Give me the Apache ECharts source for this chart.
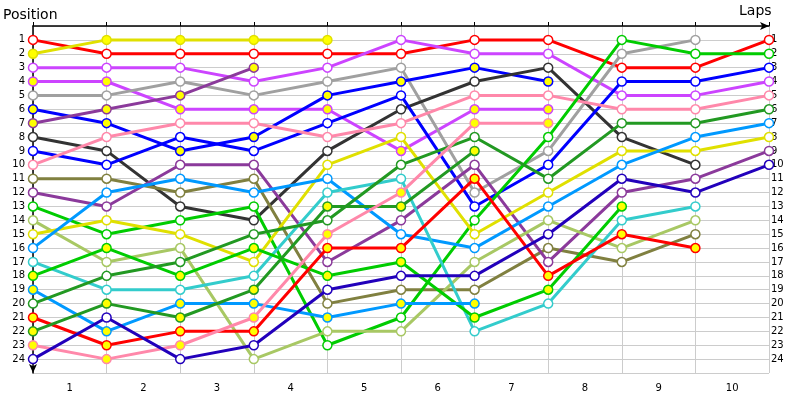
<!DOCTYPE html>
<html><head><meta charset="utf-8">
<script src="https://cdn.jsdelivr.net/npm/echarts@6/dist/echarts.min.js"></script>
<style>html,body{margin:0;padding:0;background:#fff}#c{width:800px;height:400px}</style>
</head><body><div id="c"></div>
<script>
const lapLabels = ['1','2','3','4','5','6','7','8','9','10'];
const positionLabels = Array.from({length:24},(_,i)=>String(i+1));
const seriesColors = ['#ff0000','#e0e000','#cc44ff','#cc44ff','#a0a0a0','#0000ff','#8b3a9b','#333333','#0000ff','#ff88aa','#808040','#8b3a9b','#00cc00','#a8c864','#e0e000','#0099ff','#33cccc','#00cc00','#0099ff','#229922','#ff0000','#229922','#ff88aa','#2200bb'];
const filled = [0,1,0,1,0,1,1,0,0,0,0,0,0,0,0,0,0,1,1,0,1,1,1,0];
const positions = [
 [1,2,2,2,2,2,1,1,3,3,1],
 [2,1,1,1,1],
 [3,3,3,4,3,1,2,2,5,5,4],
 [4,4,6,6,6,9,6,6],
 [5,5,4,5,4,3,12,9,2,1],
 [6,7,9,8,5,4,3,4],
 [7,6,5,3],
 [8,9,13,14,9,6,4,3,8,10],
 [9,10,8,9,7,5,13,10,4,4,3],
 [10,8,7,7,8,7,5,5,6,6,5],
 [11,11,12,11,20,19,19,16,17,15],
 [12,13,10,10,17,14,10,17,12,11,9],
 [13,15,14,13,23,21,14,8,1,2,2],
 [14,17,16,24,22,22,17,14,16,14],
 [15,14,15,17,10,8,15,12,9,9,8],
 [16,12,11,12,11,15,16,13,10,8,7],
 [17,19,19,18,12,11,22,20,14,13],
 [18,16,18,16,18,17,21,19,13],
 [19,22,20,20,21,20,20],
 [20,18,17,15,14,10,8,11,7,7,6],
 [21,23,22,22,16,16,11,18,15,16],
 [22,20,21,19,13,13,9],
 [23,24,23,21,15,12,7,7],
 [24,21,24,23,19,18,18,15,11,12,10]
];
const series = positions.map((p,i)=>({
  type:'line', xAxisIndex:0, yAxisIndex:0,
  data:p.map((v,j)=>[j,v]),
  symbol:'circle', symbolSize:9,
  lineStyle:{width:3,color:seriesColors[i]},
  itemStyle:{color:filled[i]?'#ffff00':'#ffffff',borderColor:seriesColors[i],borderWidth:1.5},
  emphasis:{disabled:true}, z:2+i, animation:false
}));
const chart = echarts.init(document.getElementById('c'));
const lbl = {fontFamily:'DejaVu Sans',fontSize:10,color:'#000'};
chart.setOption({
  animation:false,
  grid:{left:32,right:31,top:26,bottom:27},
  xAxis:[
    {type:'value',min:0,max:10,interval:1,position:'bottom',
     axisLine:{show:true,lineStyle:{color:'#000',width:1.5},symbol:['none','arrow'],symbolSize:[6,9]},
     axisTick:{show:true,length:4,inside:true,lineStyle:{color:'#000'}},axisLabel:{show:false},
     splitLine:{show:true,lineStyle:{color:'#cccccc'}},
     name:'Laps',nameLocation:'end',nameGap:-30,
     nameTextStyle:{fontFamily:'DejaVu Sans',fontSize:14,color:'#000',verticalAlign:'bottom',padding:[0,0,8,0]}},
    {type:'value',min:0,max:10,interval:0.5,position:'bottom',
     axisLine:{show:false},axisTick:{show:false},splitLine:{show:false},
     axisLabel:{...lbl,margin:10,formatter:v=>(Math.abs(v%1-0.5)<0.01)?lapLabels[Math.floor(v)]:''}}
  ],
  yAxis:[
    {type:'value',inverse:true,min:0,max:25,interval:1,position:'left',
     axisLine:{show:true,lineStyle:{color:'#000',width:1.5},symbol:['arrow','none'],symbolSize:[6,9]},
     axisTick:{show:false},splitLine:{show:true,lineStyle:{color:'#cccccc'}},
     axisLabel:{...lbl,margin:8,formatter:v=>(v>=1&&v<=24)?positionLabels[v-1]:''},
     name:'Position',nameLocation:'start',nameGap:4,
     nameTextStyle:{fontFamily:'DejaVu Sans',fontSize:14,color:'#000',align:'left',padding:[0,0,0,-30]}},
    {type:'value',inverse:true,min:0,max:25,interval:1,position:'right',
     axisLine:{show:false},axisTick:{show:false},splitLine:{show:false},
     axisLabel:{...lbl,margin:2,formatter:v=>(v>=1&&v<=24)?positionLabels[v-1]:''}}
  ],
  series
});
</script></body></html>
